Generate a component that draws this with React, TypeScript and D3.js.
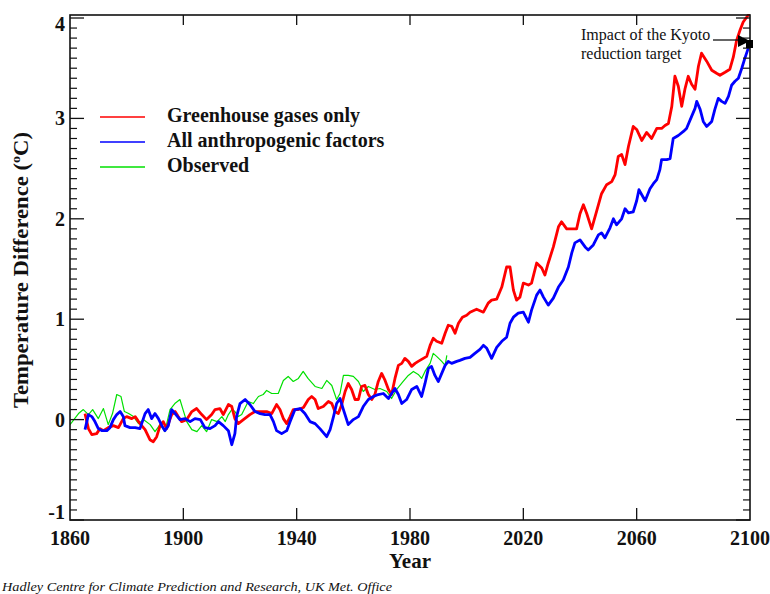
import React from "react";
import * as d3 from "d3";

const yearTicks = [1860, 1900, 1940, 1980, 2020, 2060, 2100];
const tempTicks = [-1, 0, 1, 2, 3, 4];
const seriesNames = ["Greenhouse gases only", "All anthropogenic factors", "Observed"];
const seriesColors = ["#ff0000", "#0000ff", "#00e000"];

const ghgOnly: [number, number][] = [
  [1865.3, 0.06], [1866.5, -0.09], [1867.7, -0.15], [1869.4, -0.14], [1870.6, -0.09], [1871.8, -0.11],
  [1873.5, -0.08], [1875.3, -0.06], [1877.1, -0.08], [1878.8, 0.01], [1880, 0.03], [1881.8, 0.01],
  [1883, 0.03], [1884.2, -0.02], [1885.3, -0.06], [1886.5, -0.1], [1888.2, -0.2], [1889.4, -0.22],
  [1890.6, -0.17], [1891.8, -0.06], [1892.9, -0.02], [1894.1, -0.09], [1895.9, 0.05], [1897.1, 0.08],
  [1898.2, 0.03], [1899.4, -0.02], [1901.2, 0.0], [1903, 0.08], [1904.7, 0.11], [1906.5, 0.05],
  [1908.2, 0.0], [1910, 0.05], [1911.2, 0.1], [1912.9, 0.11], [1914.1, 0.05], [1915.9, 0.15],
  [1917.1, 0.13], [1918.2, 0.01], [1919.4, -0.04], [1921.2, 0.0], [1923.5, 0.05], [1925.3, 0.08],
  [1927.6, 0.08], [1929.4, 0.08], [1931.2, 0.06], [1932.9, 0.15], [1934.1, 0.1], [1935.3, 0.01],
  [1936.5, -0.04], [1937.7, 0.03], [1938.8, 0.1], [1940.6, 0.1], [1942.4, 0.12], [1944.1, 0.2],
  [1945.3, 0.23], [1946.5, 0.2], [1947.6, 0.11], [1949.4, 0.13], [1951.2, 0.18], [1952.4, 0.16],
  [1953.5, 0.08], [1954.7, 0.06], [1955.9, 0.15], [1957.1, 0.28], [1958.2, 0.36], [1959.4, 0.3],
  [1960.6, 0.2], [1961.8, 0.2], [1962.9, 0.33], [1964.1, 0.34], [1965.3, 0.25], [1966.5, 0.2],
  [1967.6, 0.25], [1968.8, 0.38], [1970, 0.46], [1971.2, 0.39], [1972.4, 0.3], [1973.5, 0.25],
  [1974.7, 0.41], [1975.9, 0.54], [1977.1, 0.56], [1978.2, 0.61], [1979.4, 0.58], [1980.6, 0.53],
  [1981.8, 0.56], [1982.9, 0.58], [1984.7, 0.61], [1985.9, 0.63], [1987.1, 0.74], [1988.2, 0.81],
  [1989.4, 0.78], [1991.2, 0.76], [1992.4, 0.86], [1993.5, 0.94], [1994.7, 0.93], [1995.9, 0.86],
  [1997.1, 0.96], [1998.5, 1.02], [2000, 1.04], [2001.2, 1.07], [2003.5, 1.1], [2005.9, 1.07],
  [2007.6, 1.16], [2008.8, 1.19], [2010.6, 1.2], [2012.4, 1.32], [2014.1, 1.52], [2015.3, 1.52],
  [2016.5, 1.29], [2017.6, 1.19], [2018.8, 1.22], [2020, 1.36], [2021.8, 1.34], [2022.9, 1.36],
  [2024.7, 1.56], [2026.5, 1.51], [2027.6, 1.44], [2028.8, 1.56], [2030.6, 1.72], [2032.4, 1.92],
  [2033.5, 1.97], [2035.3, 1.9], [2037.1, 1.9], [2038.8, 1.9], [2040, 2.05], [2041.2, 2.14],
  [2042.4, 2.05], [2044.1, 1.9], [2045.9, 2.08], [2047.6, 2.25], [2049.4, 2.34], [2051.2, 2.37],
  [2052.4, 2.44], [2053.5, 2.62], [2054.7, 2.64], [2055.9, 2.54], [2057.1, 2.72], [2058.8, 2.92],
  [2060, 2.89], [2061.8, 2.78], [2063.5, 2.86], [2065.3, 2.8], [2067.1, 2.9], [2068.8, 2.9],
  [2070, 2.93], [2071.2, 2.95], [2072.4, 3.12], [2073.5, 3.42], [2074.7, 3.32], [2075.9, 3.12],
  [2077.1, 3.3], [2078.2, 3.42], [2079.4, 3.34], [2080.6, 3.29], [2081.8, 3.52], [2082.9, 3.65],
  [2084.7, 3.57], [2086.5, 3.48], [2088.2, 3.45], [2089.4, 3.43], [2091.2, 3.46], [2092.9, 3.49],
  [2094.1, 3.61], [2095.3, 3.78], [2096.5, 3.88], [2097.6, 3.96], [2099.4, 4.03], [2100, 4.05],
];

const allFactors: [number, number][] = [
  [1865.3, -0.1], [1866.5, 0.05], [1867.7, 0.03], [1868.8, -0.02], [1870, -0.09], [1871.2, -0.11],
  [1873, -0.11], [1874.1, -0.08], [1875.3, 0.0], [1876.5, 0.05], [1877.7, 0.08], [1878.8, 0.03],
  [1879.4, -0.06], [1881.2, -0.08], [1883, -0.08], [1884.7, -0.09], [1886.5, 0.06], [1887.6, 0.1],
  [1888.8, 0.01], [1890, 0.06], [1891.2, 0.01], [1892.4, -0.06], [1893.5, -0.11], [1894.7, -0.06],
  [1895.9, 0.1], [1897.1, 0.06], [1898.8, 0.0], [1900.6, 0.01], [1902.4, -0.02], [1904.1, 0.01],
  [1906, 0.0], [1907.6, -0.08], [1909.4, -0.09], [1911.2, -0.06], [1912.4, -0.02], [1914.1, -0.06],
  [1915.9, -0.11], [1917.1, -0.25], [1918.2, -0.14], [1918.8, 0.03], [1920, 0.16], [1921.8, 0.2],
  [1923.5, 0.15], [1925.3, 0.08], [1927.1, 0.06], [1928.8, 0.05], [1930.6, 0.05], [1931.8, -0.02],
  [1932.9, -0.11], [1934.7, -0.14], [1936.5, -0.11], [1937.7, -0.02], [1939.4, 0.1], [1941.2, 0.11],
  [1942.9, 0.06], [1944.7, -0.02], [1946.5, -0.04], [1948.2, -0.09], [1950.6, -0.17], [1951.8, -0.1],
  [1953, 0.03], [1954.1, 0.16], [1955.3, 0.21], [1956.5, 0.1], [1958.2, -0.05], [1960, 0.0],
  [1961.8, 0.03], [1963.5, 0.13], [1965.3, 0.2], [1967.1, 0.23], [1968.8, 0.25], [1970.6, 0.26],
  [1972.4, 0.21], [1973.5, 0.26], [1974.7, 0.31], [1975.9, 0.25], [1977.1, 0.16], [1978.8, 0.2],
  [1980.6, 0.3], [1982.4, 0.33], [1984.1, 0.23], [1985.3, 0.36], [1986.5, 0.51], [1987.6, 0.53],
  [1988.8, 0.44], [1990, 0.38], [1991.2, 0.46], [1992.4, 0.54], [1993.5, 0.58], [1994.7, 0.56],
  [1996.5, 0.58], [1997.6, 0.59], [1999.4, 0.61], [2001.2, 0.62], [2002.9, 0.66], [2004.7, 0.7],
  [2005.9, 0.74], [2007.1, 0.71], [2008.8, 0.61], [2010.6, 0.72], [2012.4, 0.78], [2014.1, 0.82],
  [2015.3, 0.96], [2016.5, 1.02], [2018.2, 1.06], [2020, 1.07], [2021.8, 0.97], [2022.9, 1.09],
  [2024.7, 1.24], [2025.9, 1.29], [2027.1, 1.22], [2028.8, 1.14], [2030.6, 1.21], [2032.4, 1.32],
  [2034.1, 1.39], [2035.9, 1.52], [2037.1, 1.66], [2038.2, 1.76], [2040, 1.79], [2041.8, 1.72],
  [2042.9, 1.69], [2044.7, 1.74], [2046.5, 1.84], [2047.6, 1.86], [2048.8, 1.81], [2050.6, 1.91],
  [2051.8, 2.0], [2052.9, 1.94], [2054.7, 2.0], [2055.9, 2.1], [2057.1, 2.06], [2058.8, 2.07],
  [2060, 2.18], [2060.8, 2.29], [2061.8, 2.24], [2063, 2.18], [2064.7, 2.3], [2065.9, 2.35],
  [2067.1, 2.39], [2068.2, 2.49], [2068.8, 2.59], [2070.6, 2.59], [2071.8, 2.6], [2072.9, 2.8],
  [2074.7, 2.83], [2076.5, 2.87], [2077.6, 2.9], [2079.4, 3.02], [2080.6, 3.1], [2081.2, 3.17],
  [2082.4, 3.09], [2083.5, 2.97], [2084.7, 2.92], [2086.5, 2.97], [2087.6, 3.09], [2088.8, 3.2],
  [2090, 3.17], [2091.2, 3.15], [2092.4, 3.22], [2093.5, 3.33], [2094.7, 3.37], [2095.9, 3.4],
  [2097.1, 3.5], [2098.2, 3.6], [2099.4, 3.7], [2100, 3.74],
];

const observed: [number, number][] = [
  [1860, -0.05], [1863, 0.06], [1864.7, 0.1], [1866.5, 0.05], [1868, 0.1], [1870, 0.01],
  [1871.8, 0.11], [1873.5, -0.05], [1875, 0.06], [1876.5, 0.25], [1878, 0.23], [1879.2, 0.08],
  [1880.7, 0.06], [1882.4, 0.03], [1884.2, -0.04], [1885.9, 0.0], [1888.3, -0.05], [1890, -0.12],
  [1891.8, -0.05], [1893.5, -0.12], [1895.3, 0.1], [1897, 0.16], [1898.8, 0.2], [1900, 0.09],
  [1901.2, -0.02], [1903, -0.1], [1904.8, -0.12], [1906.5, -0.06], [1908.2, -0.12], [1910, 0.0],
  [1911.9, -0.02], [1913.6, 0.03], [1914.8, -0.02], [1915.9, 0.05], [1917.1, 0.1], [1918.2, 0.08],
  [1919.4, 0.03], [1920.6, 0.05], [1922.9, 0.18], [1924.7, 0.16], [1926.5, 0.23], [1928.2, 0.25],
  [1929.4, 0.29], [1931.2, 0.26], [1933.5, 0.26], [1935.3, 0.39], [1937, 0.43], [1938.8, 0.38],
  [1940.6, 0.41], [1942.3, 0.48], [1944, 0.41], [1946.5, 0.33], [1948.9, 0.31], [1950.6, 0.39],
  [1952.4, 0.34], [1954.1, 0.2], [1955.3, 0.26], [1956.5, 0.44], [1958.2, 0.44], [1960, 0.43],
  [1961.8, 0.38], [1963.5, 0.28], [1965.3, 0.33], [1967.6, 0.3], [1969.4, 0.31], [1971.8, 0.28],
  [1973.5, 0.21], [1975.3, 0.3], [1977.6, 0.38], [1979.4, 0.44], [1981.2, 0.48], [1982.9, 0.45],
  [1984.1, 0.41], [1985.3, 0.48], [1987.1, 0.56], [1988.2, 0.66], [1989.4, 0.63], [1991.2, 0.58],
  [1992.4, 0.54], [1993, 0.64],
];

const seriesData = [ghgOnly, allFactors, observed];
const seriesWidths = [2.8, 2.8, 1.2];

const FONT = "'Liberation Serif', 'Times New Roman', serif";

export default function App() {
  const W = 770, H = 594;
  const L = 70, R = 750, T = 15, B = 520;
  const x = d3.scaleLinear().domain([1860, 2100]).range([L, R]);
  const y = d3.scaleLinear().domain([-1, 4.03]).range([B, T]);
  const line = d3
    .line<[number, number]>()
    .x((d) => x(d[0]))
    .y((d) => y(d[1]));

  const minorTicks = d3.range(-10, 41).map((i) => i / 10).filter((v) => Math.abs(v - Math.round(v)) > 1e-6);
  const innerYears = yearTicks.slice(1, -1);

  return (
    <svg
      width={W}
      height={H}
      viewBox={`0 0 ${W} ${H}`}
      style={{ position: "absolute", left: 0, top: 0, background: "#fff" }}
      fontFamily={FONT}
    >
      <rect x={0} y={0} width={W} height={H} fill="#fff" />
      <defs>
        <clipPath id="plotclip">
          <rect x={L} y={T - 1} width={R - L} height={B - T + 1} />
        </clipPath>
      </defs>

      {/* series */}
      <g clipPath="url(#plotclip)">
        {[2, 0, 1].map((i) => (
          <path
            key={i}
            d={line(seriesData[i]) || ""}
            fill="none"
            stroke={seriesColors[i]}
            strokeWidth={seriesWidths[i]}
            strokeLinejoin="round"
          />
        ))}
      </g>

      {/* frame */}
      <rect x={L} y={T} width={R - L} height={B - T} fill="none" stroke="#111" strokeWidth={1.6} />

      {/* y ticks */}
      {tempTicks.map((v) => (
        <g key={"yt" + v}>
          <line x1={L} x2={L + 14} y1={y(v)} y2={y(v)} stroke="#111" strokeWidth={1.3} />
          <line x1={R} x2={R - 14} y1={y(v)} y2={y(v)} stroke="#111" strokeWidth={1.3} />
          <text
            x={65}
            y={Math.min(Math.max(y(v), T + 9), B - 8)}
            dy="0.35em"
            textAnchor="end"
            fontSize={20}
            fontWeight="bold"
            fill="#111"
          >
            {v}
          </text>
        </g>
      ))}
      {minorTicks.map((v) => (
        <g key={"ym" + v}>
          <line x1={L} x2={L + 7} y1={y(v)} y2={y(v)} stroke="#111" strokeWidth={1.2} />
          <line x1={R} x2={R - 7} y1={y(v)} y2={y(v)} stroke="#111" strokeWidth={1.2} />
        </g>
      ))}

      {/* x ticks */}
      {innerYears.map((yr) => (
        <g key={"xt" + yr}>
          <line x1={x(yr)} x2={x(yr)} y1={B} y2={B - 12} stroke="#111" strokeWidth={1.3} />
          <line x1={x(yr)} x2={x(yr)} y1={T} y2={T + 10} stroke="#111" strokeWidth={1.3} />
        </g>
      ))}
      {yearTicks.map((yr) => (
        <text key={"xl" + yr} x={x(yr)} y={545} textAnchor="middle" fontSize={20} fontWeight="bold" fill="#111">
          {yr}
        </text>
      ))}

      {/* axis titles */}
      <text x={410} y={568} textAnchor="middle" fontSize={21} fontWeight="bold" fill="#111">
        Year
      </text>
      <text
        transform="translate(28,270) rotate(-90)"
        textAnchor="middle"
        fontSize={21}
        fontWeight="bold"
        fill="#111"
        textLength={276}
        lengthAdjust="spacingAndGlyphs"
      >
        Temperature Difference (
        <tspan fontSize={13} dy={-8}>o</tspan>
        <tspan dy={8}>C)</tspan>
      </text>

      {/* legend */}
      {seriesNames.map((name, i) => (
        <g key={"lg" + i}>
          <line
            x1={100}
            x2={145}
            y1={117 + i * 25}
            y2={117 + i * 25}
            stroke={seriesColors[i]}
            strokeWidth={1.5}
          />
          <text x={167} y={122 + i * 25} fontSize={20} fontWeight="bold" fill="#111">
            {name}
          </text>
        </g>
      ))}

      {/* annotation */}
      <text x={581} y={40} fontSize={16} fill="#111">Impact of the Kyoto</text>
      <text x={581} y={59} fontSize={16} fill="#111">reduction target</text>
      <line x1={713} x2={740} y1={40} y2={40} stroke="#111" strokeWidth={1.3} />
      <polygon points="738,35 738,47 750,41" fill="#000" />
      <rect x={746} y={40} width={7} height={8} fill="#000" />

      {/* footer */}
      <text x={2} y={591} fontSize={12.5} fontStyle="italic" fill="#111" textLength={390} lengthAdjust="spacingAndGlyphs">
        Hadley Centre for Climate Prediction and Research, UK Met. Office
      </text>
    </svg>
  );
}
